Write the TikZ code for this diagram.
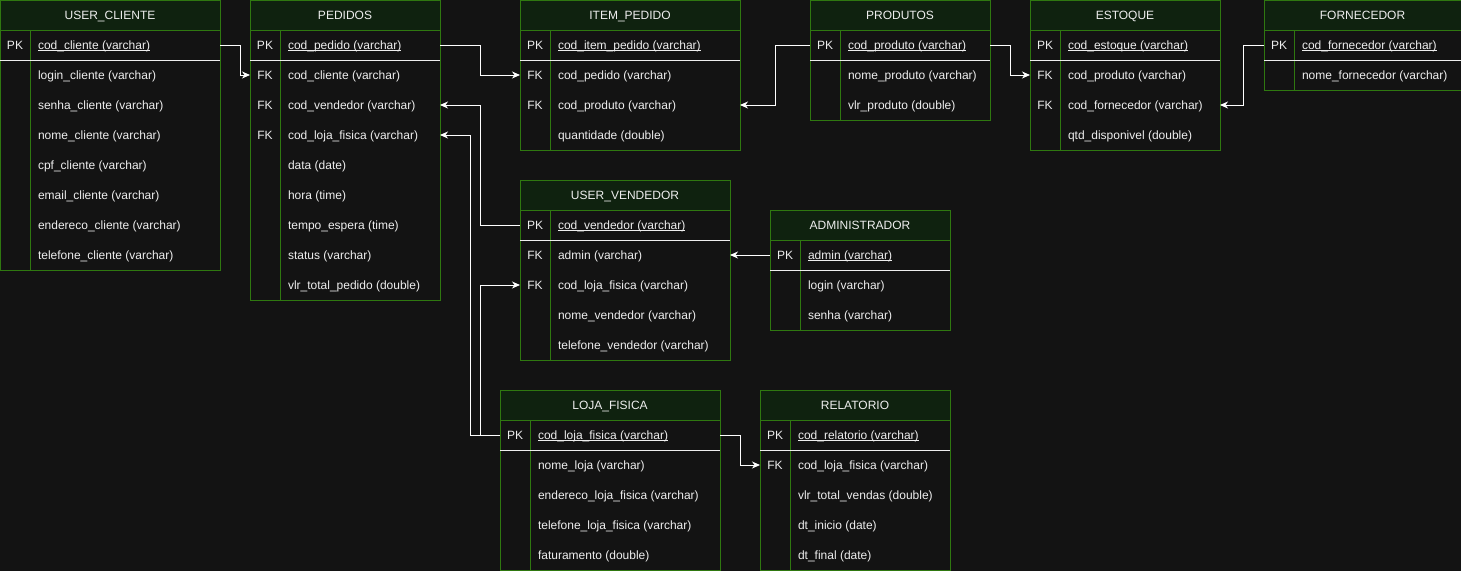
\documentclass[tikz,border=0pt]{standalone}
\usepackage{fontspec}
\setmainfont{Liberation Sans}
\usetikzlibrary{arrows.meta}
\definecolor{bg}{HTML}{131313}
\definecolor{hdrfill}{HTML}{0F220F}
\definecolor{grn}{HTML}{2F7810}
\definecolor{txt}{HTML}{EEEEEE}
\newcommand\pkul[1]{\setbox0\hbox{#1}\rlap{\rule[-1.6pt]{\wd0}{0.8pt}}\box0}
\tikzset{
  frame/.style={draw=grn, line width=1pt},
  sepline/.style={draw=txt, line width=1pt},
  rowcell/.style={minimum height=30pt, inner sep=0pt, outer sep=0pt},
  txtnode/.style={text=txt, inner sep=0pt, outer sep=0pt, font=\fontsize{12pt}{14pt}\selectfont},
  conn/.style={draw=white, line width=1pt, -{Stealth[length=8pt,width=7pt,inset=2.5pt]}},
}
% id, x, y, w, title, nrows
\newcommand\ertable[6]{%
  \pgfmathsetmacro\erh{30*(#6+1)}%
  \path[fill=hdrfill] (#2,#3) rectangle ++(#4,30);
  \node[txtnode, anchor=base] (#1) at (#2+#4/2, #3+19) {#5};
  \draw[frame] (#2,#3) rectangle ++(#4,\erh);
  \draw[frame] (#2,#3+30) -- ++(#4,0);
  \draw[frame] (#2+30,#3+30) -- (#2+30,#3+\erh);
  \draw[sepline] (#2,#3+60) -- ++(#4,0);
}
% id, x, y, w, i, key, text
\newcommand\errow[7]{%
  \node[rowcell, minimum width=#4pt, anchor=north west] (#1-#5) at (#2, #3+30*#5) {};
  \node[txtnode, anchor=base] (#1-#5-k) at (#2+15, #3+30*#5+19) {#6};
  \node[txtnode, anchor=base west] (#1-#5-t) at (#2+38, #3+30*#5+19) {#7};
}
\begin{document}
\begin{tikzpicture}[x=1pt,y=-1pt]
\useasboundingbox[fill=bg] (0,0) rectangle (1461,571);

% USER_CLIENTE
\ertable{cli}{0}{0}{220}{USER\_CLIENTE}{8}
\errow{cli}{0}{0}{220}{1}{PK}{\pkul{cod\_cliente (varchar)}}
\errow{cli}{0}{0}{220}{2}{}{login\_cliente (varchar)}
\errow{cli}{0}{0}{220}{3}{}{senha\_cliente (varchar)}
\errow{cli}{0}{0}{220}{4}{}{nome\_cliente (varchar)}
\errow{cli}{0}{0}{220}{5}{}{cpf\_cliente (varchar)}
\errow{cli}{0}{0}{220}{6}{}{email\_cliente (varchar)}
\errow{cli}{0}{0}{220}{7}{}{endereco\_cliente (varchar)}
\errow{cli}{0}{0}{220}{8}{}{telefone\_cliente (varchar)}

% PEDIDOS
\ertable{ped}{250}{0}{190}{PEDIDOS}{9}
\errow{ped}{250}{0}{190}{1}{PK}{\pkul{cod\_pedido (varchar)}}
\errow{ped}{250}{0}{190}{2}{FK}{cod\_cliente (varchar)}
\errow{ped}{250}{0}{190}{3}{FK}{cod\_vendedor (varchar)}
\errow{ped}{250}{0}{190}{4}{FK}{cod\_loja\_fisica (varchar)}
\errow{ped}{250}{0}{190}{5}{}{data (date)}
\errow{ped}{250}{0}{190}{6}{}{hora (time)}
\errow{ped}{250}{0}{190}{7}{}{tempo\_espera (time)}
\errow{ped}{250}{0}{190}{8}{}{status (varchar)}
\errow{ped}{250}{0}{190}{9}{}{vlr\_total\_pedido (double)}

% ITEM_PEDIDO
\ertable{item}{520}{0}{220}{ITEM\_PEDIDO}{4}
\errow{item}{520}{0}{220}{1}{PK}{\pkul{cod\_item\_pedido (varchar)}}
\errow{item}{520}{0}{220}{2}{FK}{cod\_pedido (varchar)}
\errow{item}{520}{0}{220}{3}{FK}{cod\_produto (varchar)}
\errow{item}{520}{0}{220}{4}{}{quantidade (double)}

% PRODUTOS
\ertable{prod}{810}{0}{180}{PRODUTOS}{3}
\errow{prod}{810}{0}{180}{1}{PK}{\pkul{cod\_produto (varchar)}}
\errow{prod}{810}{0}{180}{2}{}{nome\_produto (varchar)}
\errow{prod}{810}{0}{180}{3}{}{vlr\_produto (double)}

% ESTOQUE
\ertable{est}{1030}{0}{190}{ESTOQUE}{4}
\errow{est}{1030}{0}{190}{1}{PK}{\pkul{cod\_estoque (varchar)}}
\errow{est}{1030}{0}{190}{2}{FK}{cod\_produto (varchar)}
\errow{est}{1030}{0}{190}{3}{FK}{cod\_fornecedor (varchar)}
\errow{est}{1030}{0}{190}{4}{}{qtd\_disponivel (double)}

% FORNECEDOR
\ertable{forn}{1264}{0}{197}{FORNECEDOR}{2}
\errow{forn}{1264}{0}{197}{1}{PK}{\pkul{cod\_fornecedor (varchar)}}
\errow{forn}{1264}{0}{197}{2}{}{nome\_fornecedor (varchar)}

% USER_VENDEDOR
\ertable{vend}{520}{180}{210}{USER\_VENDEDOR}{5}
\errow{vend}{520}{180}{210}{1}{PK}{\pkul{cod\_vendedor (varchar)}}
\errow{vend}{520}{180}{210}{2}{FK}{admin (varchar)}
\errow{vend}{520}{180}{210}{3}{FK}{cod\_loja\_fisica (varchar)}
\errow{vend}{520}{180}{210}{4}{}{nome\_vendedor (varchar)}
\errow{vend}{520}{180}{210}{5}{}{telefone\_vendedor (varchar)}

% ADMINISTRADOR
\ertable{adm}{770}{210}{180}{ADMINISTRADOR}{3}
\errow{adm}{770}{210}{180}{1}{PK}{\pkul{admin (varchar)}}
\errow{adm}{770}{210}{180}{2}{}{login (varchar)}
\errow{adm}{770}{210}{180}{3}{}{senha (varchar)}

% LOJA_FISICA
\ertable{loja}{500}{390}{220}{LOJA\_FISICA}{5}
\errow{loja}{500}{390}{220}{1}{PK}{\pkul{cod\_loja\_fisica (varchar)}}
\errow{loja}{500}{390}{220}{2}{}{nome\_loja (varchar)}
\errow{loja}{500}{390}{220}{3}{}{endereco\_loja\_fisica (varchar)}
\errow{loja}{500}{390}{220}{4}{}{telefone\_loja\_fisica (varchar)}
\errow{loja}{500}{390}{220}{5}{}{faturamento (double)}

% RELATORIO
\ertable{rel}{760}{390}{190}{RELATORIO}{5}
\errow{rel}{760}{390}{190}{1}{PK}{\pkul{cod\_relatorio (varchar)}}
\errow{rel}{760}{390}{190}{2}{FK}{cod\_loja\_fisica (varchar)}
\errow{rel}{760}{390}{190}{3}{}{vlr\_total\_vendas (double)}
\errow{rel}{760}{390}{190}{4}{}{dt\_inicio (date)}
\errow{rel}{760}{390}{190}{5}{}{dt\_final (date)}

% Connectors
\draw[conn] (cli-1.east) -- ++(20,0) |- (ped-2.west);
\draw[conn] (ped-1.east) -- ++(40,0) |- (item-2.west);
\draw[conn] (prod-1.west) -- ++(-35,0) |- (item-3.east);
\draw[conn] (prod-1.east) -- ++(20,0) |- (est-2.west);
\draw[conn] (forn-1.west) -- ++(-21,0) |- (est-3.east);
\draw[conn] (vend-1.west) -- ++(-40,0) |- (ped-3.east);
\draw[conn] (loja-1.west) -- ++(-30,0) |- (ped-4.east);
\draw[conn] (loja-1.west) -- ++(-20,0) |- (vend-3.west);
\draw[conn] (adm-1.west) -- (vend-2.east);
\draw[conn] (loja-1.east) -- ++(20,0) |- (rel-2.west);
\end{tikzpicture}
\end{document}
